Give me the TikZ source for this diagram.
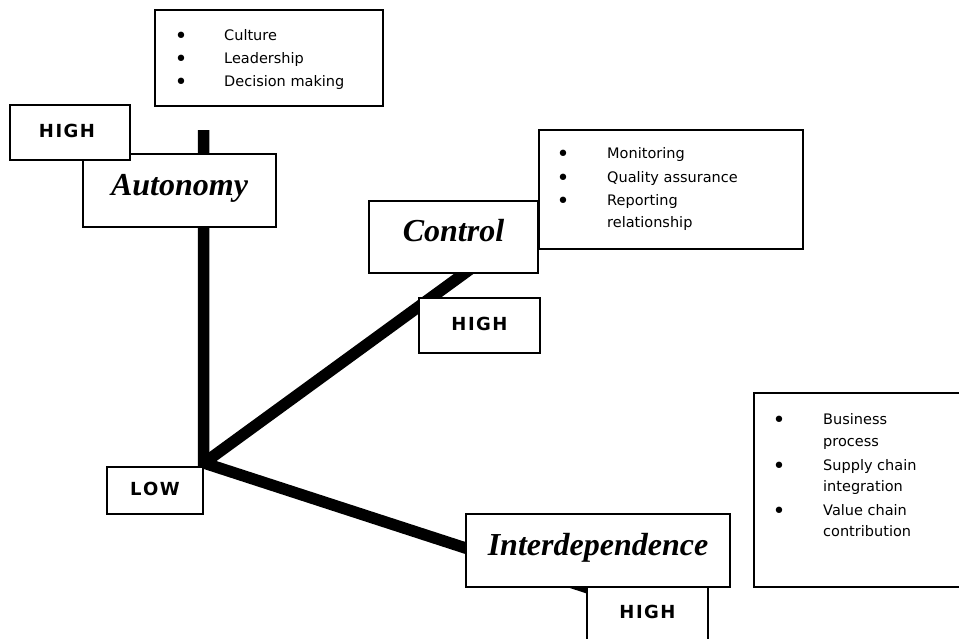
\documentclass[tikz,border=0pt]{standalone}
\usepackage{fontspec}
\setmainfont{DejaVu Sans}
\newfontfamily\labelfont{Liberation Serif}
\newcommand{\lsp}{\kern1.5pt}
\tikzset{
  box/.style={draw, line width=1.5pt, fill=white, inner sep=0pt, outer sep=0pt},
  dimlabel/.style={box, font=\labelfont\bfseries\itshape\fontsize{32}{36}\selectfont, text height=21pt, text depth=12pt},
  lvl/.style={box, font=\bfseries\fontsize{18}{20}\selectfont, text height=13pt, text depth=4pt},
  lvltext/.style={anchor=base, inner sep=0pt, font=\bfseries\fontsize{18}{20}\selectfont},
  item/.style={anchor=base west, inner sep=0pt, font=\fontsize{14.5}{22}\selectfont},
  bul/.style={anchor=base, inner sep=0pt, font=\fontsize{22}{22}\selectfont, yshift=-3.5pt},
  axis/.style={line width=11.5pt, line join=miter}
}
\begin{document}
\begin{tikzpicture}[x=1pt,y=-1pt]
\path[use as bounding box, fill=white] (0,0) rectangle (959,638);
\clip (0,0) rectangle (959,638);

% axes
\coordinate (junc) at (204,463);
\coordinate (vtop) at (203.5,130);
\coordinate (cend) at (480,262);
\coordinate (iend) at (610,595);
\draw[axis] (vtop) -- (203.5,463) -- (junc) -- (iend);
\draw[axis] (junc) -- (cend);

% bullet boxes
\node[box, minimum width=228pt, minimum height=96pt] (topbox) at (269,58) {};
\node[box, minimum width=264pt, minimum height=119pt] (cbox) at (671,189.5) {};
\node[box, minimum width=226pt, minimum height=194pt] (rbox) at (867,490) {};

% dimension boxes
\node[dimlabel, minimum width=193pt, minimum height=73pt] (auto) at (179.5,190.5) {Autonomy};
\node[lvl, minimum width=120pt, minimum height=55pt] (ahigh) at (70,132.5) {H\lsp I\lsp G\lsp H\kern6pt};
\node[dimlabel, minimum width=169pt, minimum height=72pt] (ctrl) at (453.5,237) {Control};
\node[lvl, minimum width=121pt, minimum height=55pt] (chigh) at (479.5,325.5) {H\lsp I\lsp G\lsp H};
\node[lvl, minimum width=96pt, minimum height=47pt] (low) at (155,490.5) {L\lsp O\lsp W};
\node[dimlabel, minimum width=264pt, minimum height=73pt] (inter) at (598,550.5) {Interdependence};
\node[box, minimum width=121pt, minimum height=83pt] (ihigh) at (647.5,628.5) {};
\node[lvltext] (ihightext) at (647.5,618) {H\lsp I\lsp G\lsp H};

% top list
\node[bul] (tb1) at (181,40) {•};
\node[item] (tt1) at (224,40) {Culture};
\node[bul] (tb2) at (181,63) {•};
\node[item] (tt2) at (224,63) {Leadership};
\node[bul] (tb3) at (181,86) {•};
\node[item] (tt3) at (224,86) {Decision making};

% control list
\node[bul] (cb1) at (563,158) {•};
\node[item] (ct1) at (607,158) {Monitoring};
\node[bul] (cb2) at (563,182) {•};
\node[item] (ct2) at (607,182) {Quality assurance};
\node[bul] (cb3) at (563,205) {•};
\node[item] (ct3) at (607,205) {Reporting};
\node[item] (ct4) at (607,227) {relationship};

% right list
\node[bul] (rb1) at (779,424) {•};
\node[item] (rt1) at (823,424) {Business};
\node[item] (rt2) at (823,446) {process};
\node[bul] (rb2) at (779,470) {•};
\node[item] (rt3) at (823,470) {Supply chain};
\node[item] (rt4) at (823,491) {integration};
\node[bul] (rb3) at (779,515) {•};
\node[item] (rt5) at (823,515) {Value chain};
\node[item] (rt6) at (823,536) {contribution};
\end{tikzpicture}
\end{document}
